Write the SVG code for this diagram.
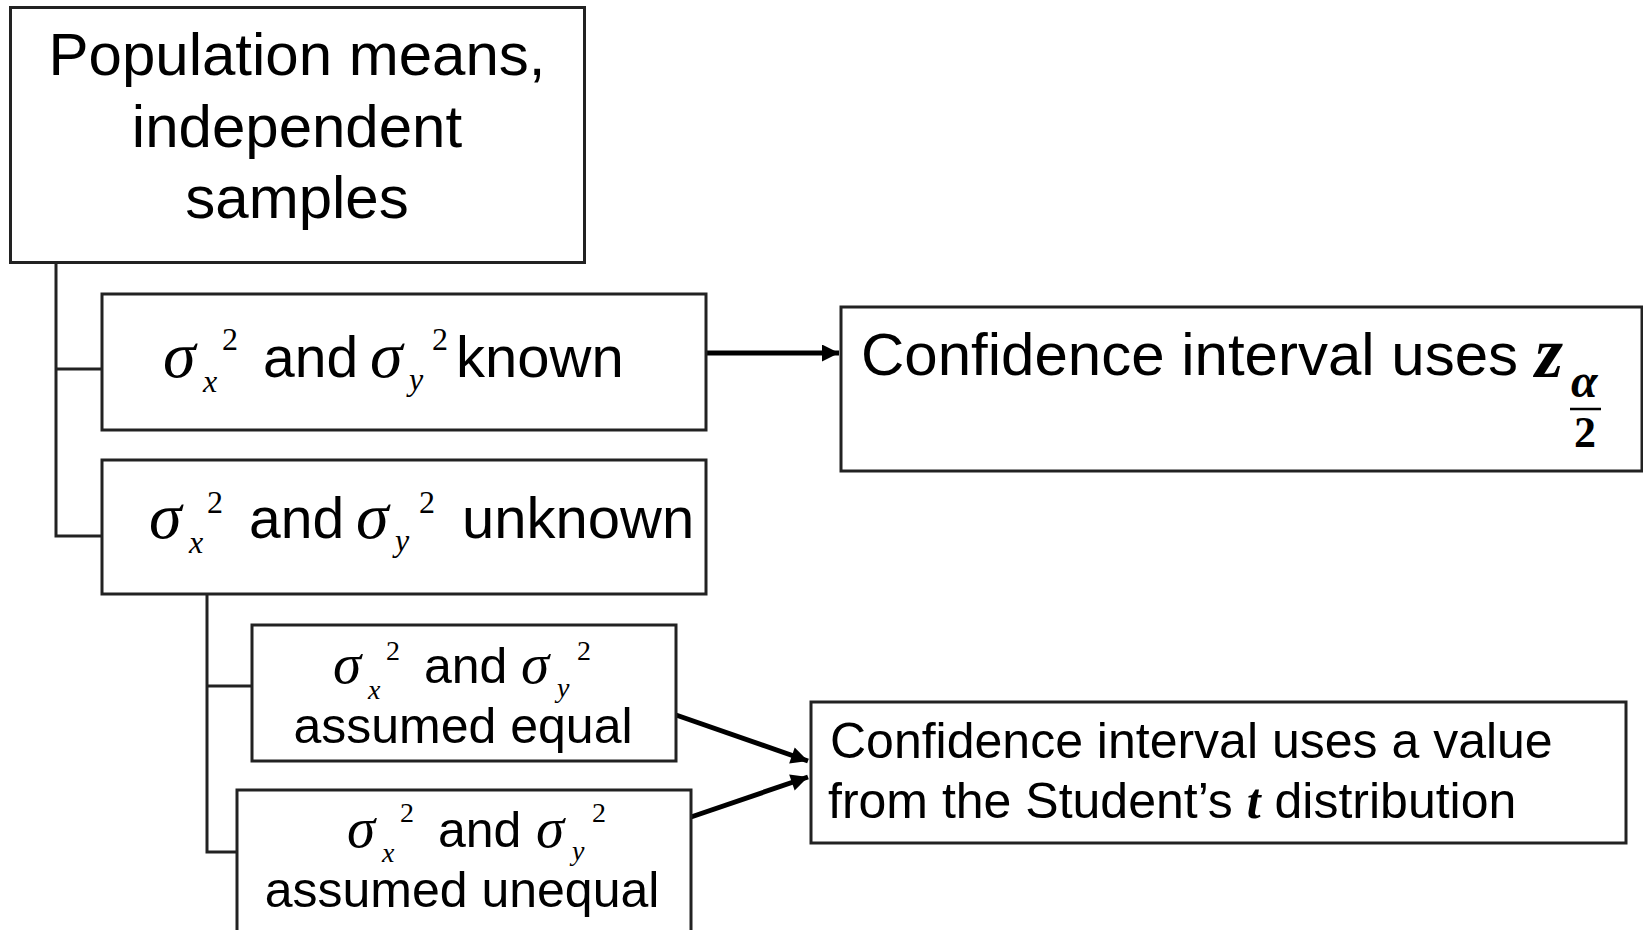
<svg xmlns="http://www.w3.org/2000/svg" width="1643" height="930" viewBox="0 0 1643 930">
<style>
.box{fill:#fff;stroke:#222;stroke-width:3}
.ln{fill:none;stroke:#222;stroke-width:3}
.ar{fill:none;stroke:#000;stroke-width:5}
.s{font-family:"Liberation Sans",Arial,sans-serif;fill:#000}
.m{font-family:"Liberation Serif","Times New Roman",serif;font-style:italic;fill:#000}
.r{font-family:"Liberation Serif","Times New Roman",serif;fill:#000}
.b{font-family:"Liberation Serif","Times New Roman",serif;font-weight:bold;fill:#000}
.bi{font-family:"Liberation Serif","Times New Roman",serif;font-weight:bold;font-style:italic;fill:#000}
</style>
<defs>
<marker id="ah" viewBox="0 0 10 10" refX="10" refY="5" markerWidth="4" markerHeight="3.4" orient="auto" markerUnits="strokeWidth">
<path d="M0,0 L10,5 L0,10 z" fill="#000"/>
</marker>
</defs>
<g id="connectors">
<path class="ln" d="M56,263 V536 H102 M56,369 H102"/>
<path class="ln" d="M207,594 V852 H237 M207,686 H252"/>
<line class="ar" x1="706" y1="353" x2="839" y2="353" marker-end="url(#ah)"/>
<line class="ar" x1="676" y1="715" x2="808" y2="761" marker-end="url(#ah)"/>
<line class="ar" x1="691" y1="817" x2="808" y2="777" marker-end="url(#ah)"/>
</g>
<g id="population">
<rect class="box" x="10.5" y="7.5" width="574" height="255"/>
<text class="s" font-size="60" text-anchor="middle"><tspan x="297" y="75">Population means,</tspan><tspan x="297" y="147">independent</tspan><tspan x="297" y="218">samples</tspan></text>
</g>
<g id="known">
<rect class="box" x="102" y="294" width="604" height="136"/>
<text class="m" font-size="66" x="163" y="377">σ</text>
<text class="m" font-size="32" x="203" y="392">x</text>
<text class="r" font-size="32" x="222" y="350">2</text>
<text class="s" font-size="57" x="263" y="377">and</text>
<text class="m" font-size="66" x="370" y="377">σ</text>
<text class="m" font-size="32" x="409" y="390">y</text>
<text class="r" font-size="32" x="432" y="350">2</text>
<text class="s" font-size="58" x="456" y="377">known</text>
</g>
<g id="unknown">
<rect class="box" x="102" y="460" width="604" height="134"/>
<text class="m" font-size="66" x="149" y="538">σ</text>
<text class="m" font-size="32" x="189" y="553">x</text>
<text class="r" font-size="32" x="207" y="513">2</text>
<text class="s" font-size="57" x="249" y="538">and</text>
<text class="m" font-size="66" x="356" y="538">σ</text>
<text class="m" font-size="32" x="395" y="551">y</text>
<text class="r" font-size="32" x="419" y="513">2</text>
<text class="s" font-size="58" x="462" y="538">unknown</text>
</g>
<g id="ci-z">
<rect class="box" x="841" y="307" width="801" height="164"/>
<text class="s" font-size="60" x="861" y="375">Confidence interval uses</text>
<text class="bi" font-size="72" x="1535" y="377">z</text>
<text class="bi" font-size="48" x="1571" y="397">α</text>
<line x1="1570" y1="409" x2="1601" y2="409" stroke="#000" stroke-width="2.5"/>
<text class="b" font-size="44" x="1574" y="447">2</text>
</g>
<g id="equal">
<rect class="box" x="252" y="625" width="424" height="136"/>
<text class="m" font-size="57" x="333" y="683">σ</text>
<text class="m" font-size="28" x="368" y="699">x</text>
<text class="r" font-size="28" x="386" y="660">2</text>
<text class="s" font-size="50" x="424" y="683">and</text>
<text class="m" font-size="57" x="521" y="683">σ</text>
<text class="m" font-size="28" x="557" y="697">y</text>
<text class="r" font-size="28" x="577" y="660">2</text>
<text class="s" font-size="50" x="463" y="743" text-anchor="middle">assumed equal</text>
</g>
<g id="unequal">
<rect class="box" x="237" y="790" width="454" height="150"/>
<text class="m" font-size="57" x="347" y="847">σ</text>
<text class="m" font-size="28" x="382" y="862">x</text>
<text class="r" font-size="28" x="400" y="822">2</text>
<text class="s" font-size="50" x="438" y="847">and</text>
<text class="m" font-size="57" x="536" y="847">σ</text>
<text class="m" font-size="28" x="572" y="860">y</text>
<text class="r" font-size="28" x="592" y="822">2</text>
<text class="s" font-size="50" x="462" y="907" text-anchor="middle">assumed unequal</text>
</g>
<g id="ci-t">
<rect class="box" x="811" y="702" width="815" height="141"/>
<text class="s" font-size="50" x="830" y="758">Confidence interval uses a value</text>
<text class="s" font-size="50" x="828" y="818">from the Student’s <tspan class="bi">t</tspan> distribution</text>
</g>
</svg>
